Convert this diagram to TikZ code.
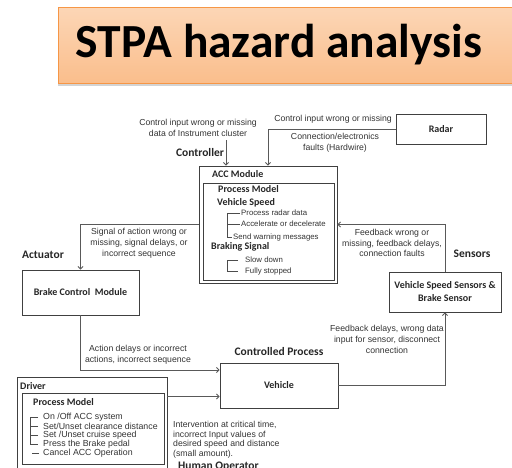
\documentclass[tikz,border=0pt]{standalone}
\usepackage{fontspec}
\setmainfont{Liberation Sans}
\newfontfamily\calibri{Carlito}
\usetikzlibrary{arrows.meta,shadows}

\definecolor{titletop}{RGB}{252,214,182}
\definecolor{titlebot}{RGB}{250,190,140}
\definecolor{titleline}{RGB}{246,150,70}

\begin{document}
\begin{tikzpicture}[x=1pt,y=-1pt,
    >={Straight Barb[length=2.5pt,width=5pt]},
    box/.style={draw=black!75,line width=0.9pt,inner sep=0pt,align=center,
      font=\calibri\bfseries\fontsize{10}{13}\selectfont,text=black!85},
    lbl/.style={inner sep=0pt,align=center,font=\fontsize{8.7}{10.8}\selectfont,text=black!80},
    head/.style={inner sep=0pt,font=\calibri\bfseries\fontsize{11.5}{13}\selectfont,text=black!85},
    bhead/.style={inner sep=0pt,anchor=west,font=\calibri\bfseries\fontsize{10}{12}\selectfont,text=black!85},
    item/.style={inner sep=0pt,anchor=west,font=\fontsize{7.8}{9}\selectfont,text=black!80},
    ditem/.style={inner sep=0pt,anchor=west,font=\fontsize{8.8}{9}\selectfont,text=black!80},
    wire/.style={draw=black!65,line width=0.8pt},
    tree/.style={draw=black!70,line width=0.6pt}]
    \useasboundingbox (0,0) rectangle (512,467);
    \clip (0,0) rectangle (512,467);

    % title
    \draw[draw=titleline,line width=1pt,top color=titletop,bottom color=titlebot,
      drop shadow={shadow xshift=0pt,shadow yshift=-3pt,opacity=.35}] (58,7) rectangle (540,83);
    \node[inner sep=0pt,font=\calibri\bfseries\fontsize{47.5}{50}\selectfont] at (279,45) (title) {STPA hazard analysis};

    % blocks
    \node[box,minimum width=90,minimum height=30] at (441,129) (radar) {Radar};
    \node[box,minimum width=138,minimum height=117] at (268,224.5) (acc) {};
    \node[box,minimum width=131,minimum height=97] at (268.5,231.5) (pm) {};
    \node[box,minimum width=117,minimum height=45] at (80.5,292.5) (bcm) {Brake Control\ \ Module};
    \node[box,minimum width=118,minimum height=45] at (279,385.5) (veh) {Vehicle};
    \node[box,minimum width=112,minimum height=40] at (445,292) (sens) {Vehicle Speed Sensors \&\\Brake Sensor};
    \node[box,minimum width=150,minimum height=110] at (92,432) (drv) {};
    \node[box,minimum width=142,minimum height=71] at (93,428.5) (dpm) {};

    % labels
    \node[head] at (200,153) (ctrl) {Controller};
    \node[head,anchor=west] at (22,255) (act) {Actuator};
    \node[head] at (472,254) (sn) {Sensors};
    \node[head] at (279,351) (cp) {Controlled Process};
    \node[head,anchor=west] at (178,467) (ho) {Human Operator};

    \node[lbl] at (198,128) (l1) {Control input wrong or missing\\data of Instrument cluster};
    \node[lbl] at (333,119) (l2) {Control input wrong or missing};
    \node[lbl] at (335,142.5) (l3) {Connection/electronics\\faults (Hardwire)};
    \node[lbl] at (139,243) (l4) {Signal of action wrong or\\missing, signal delays, or\\incorrect sequence};
    \node[lbl] at (392,243) (l5) {Feedback wrong or\\missing, feedback delays,\\connection faults};
    \node[lbl] at (138,355) (l6) {Action delays or incorrect\\actions, incorrect sequence};
    \node[lbl] at (387,339.5) (l7) {Feedback delays, wrong data\\input for sensor, disconnect\\connection};
    \node[lbl,align=left,anchor=north west,font=\fontsize{8.7}{9.5}\selectfont] at (173,421) (l8) {Intervention at critical time,\\incorrect Input values of\\desired speed and distance\\(small amount).};

    % ACC module
    \node[bhead] at (212,174) (accm) {ACC Module};
    \node[bhead] at (218,189) (pm1) {Process Model};
    \node[bhead] at (217,203) (vs) {Vehicle Speed};
    \node[item] at (241,213) (i1) {Process radar data};
    \node[item] at (241,224) (i2) {Accelerate or decelerate};
    \node[item] at (233,237) (i3) {Send warning messages};
    \draw[tree] ([xshift=-1pt]i1.west) -- ++(-13,0) |- ([xshift=-1pt]i3.west);
    \draw[tree] ([xshift=-1pt]i2.west) -- ++(-13,0);
    \node[bhead] at (211,247) (bs) {Braking Signal};
    \node[item] at (245,260) (b1) {Slow down};
    \node[item] at (245,271) (b2) {Fully stopped};
    \draw[tree] ([xshift=-7pt]b1.west) -- ++(-11,0) |- ([xshift=-7pt]b2.west);

    % driver
    \node[bhead] at (20,386) (dr) {Driver};
    \node[bhead] at (33,402) (pm2) {Process Model};
    \node[ditem] at (43,417) (d1) {On /Off ACC system};
    \node[ditem] at (43,426) (d2) {Set/Unset clearance distance};
    \node[ditem] at (43,435) (d3) {Set /Unset cruise speed};
    \node[ditem] at (43,444) (d4) {Press the Brake pedal};
    \node[ditem] at (43,453) (d5) {Cancel ACC Operation};
    \draw[tree] ([xshift=-5pt]d1.west) -- ++(-8,0) |- ([xshift=-5pt]d4.west);
    \draw[tree] ([xshift=-5pt]d2.west) -- ++(-8,0);
    \draw[tree] ([xshift=-5pt]d3.west) -- ++(-8,0);
    \draw[tree] ([xshift=-4pt]d5.west) -- ++(-7,0);

    % connectors
    \coordinate (in1) at (226,140);
    \draw[wire,->] (in1) to (in1 |- acc.north);
    \draw[wire,->] (radar.west) -| (acc.north);
    \draw[wire,->] (acc.west) -| (bcm.north);
    \draw[wire,->] (bcm.south) |- ([yshift=15.5pt]veh.west);
    \coordinate (v2) at ([yshift=-11pt]veh.west);
    \draw[wire,->] (drv.east |- v2) to (v2);
    \draw[wire,->] (veh.east) -| (sens.south);
    \draw[wire,->] (sens.north) |- (acc.east);
\end{tikzpicture}
\end{document}
